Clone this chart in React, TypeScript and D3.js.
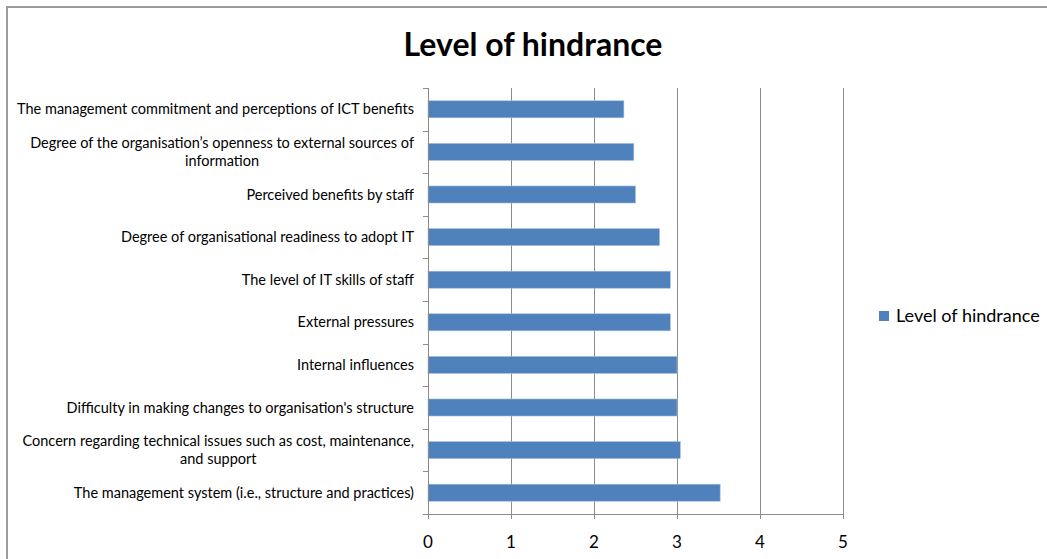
import React, { useEffect, useRef } from 'react';
import * as d3 from 'd3';

const categories = [
  ['The management commitment and perceptions of ICT benefits'],
  ['Degree of the organisation\u2019s openness to external sources of', 'information'],
  ['Perceived benefits by staff'],
  ['Degree of organisational readiness to adopt IT'],
  ['The level of IT skills of staff'],
  ['External pressures'],
  ['Internal influences '],
  ["Difficulty in making changes to organisation's structure"],
  ['Concern regarding technical issues such as cost, maintenance,', 'and support'],
  ['The management system (i.e., structure and practices)'],
];
const values = [2.36, 2.48, 2.5, 2.79, 2.92, 2.92, 3.0, 3.0, 3.04, 3.52];
const xTicks = [0, 1, 2, 3, 4, 5];
const seriesName = 'Level of hindrance';
const title = 'Level of hindrance';

const W = 1047;
const H = 559;
const FONT = 'Lato, "Open Sans", sans-serif';

export default function App() {
  const ref = useRef<SVGSVGElement>(null);

  useEffect(() => {
    const svg = d3.select(ref.current);
    svg.selectAll('*').remove();

    const plot = { left: 428, right: 843, top: 88, bottom: 514 };

    // outer chart border (cut off at right/bottom)
    svg.append('path')
      .attr('d', `M7,${H + 5}V7H${W + 5}`)
      .attr('fill', 'none')
      .attr('stroke', '#9b9b9b')
      .attr('stroke-width', 2);

    svg.append('text')
      .attr('x', 533)
      .attr('y', 56)
      .attr('text-anchor', 'middle')
      .attr('font-family', FONT)
      .attr('font-weight', 'bold')
      .attr('font-size', 32)
      .text(title);

    const x = d3.scaleLinear().domain([0, 5]).range([plot.left, plot.right]);
    const y = d3.scaleBand<number>()
      .domain(d3.range(categories.length))
      .range([plot.top, plot.bottom]);
    const barH = y.bandwidth() / 2.5;

    // gridlines
    svg.append('g')
      .selectAll('line')
      .data(xTicks.slice(1))
      .join('line')
      .attr('x1', d => Math.round(x(d)) + 0.5)
      .attr('x2', d => Math.round(x(d)) + 0.5)
      .attr('y1', plot.top)
      .attr('y2', plot.bottom)
      .attr('stroke', '#8c8c8c')
      .attr('stroke-width', 1);

    // bars
    svg.append('g')
      .selectAll('rect')
      .data(values)
      .join('rect')
      .attr('x', x(0))
      .attr('y', (_, i) => y(i)! + (y.bandwidth() - barH) / 2)
      .attr('width', d => x(d) - x(0))
      .attr('height', barH)
      .attr('fill', '#4f81bd')
      .attr('stroke', '#a7bfde')
      .attr('stroke-width', 0.6);

    // y axis line + ticks
    const ax = svg.append('g').attr('stroke', '#8c8c8c').attr('stroke-width', 1);
    ax.append('line')
      .attr('x1', plot.left + 0.5).attr('x2', plot.left + 0.5)
      .attr('y1', plot.top).attr('y2', plot.bottom);
    const bounds = d3.range(categories.length + 1).map(i => plot.top + i * y.step());
    ax.selectAll('line.yt')
      .data(bounds)
      .join('line')
      .attr('class', 'yt')
      .attr('x1', plot.left - 5).attr('x2', plot.left)
      .attr('y1', d => Math.round(d) + 0.5).attr('y2', d => Math.round(d) + 0.5);

    // x axis line + ticks
    ax.append('line')
      .attr('x1', plot.left).attr('x2', plot.right + 1)
      .attr('y1', plot.bottom + 0.5).attr('y2', plot.bottom + 0.5);
    ax.selectAll('line.xt')
      .data(xTicks)
      .join('line')
      .attr('class', 'xt')
      .attr('x1', d => Math.round(x(d)) + 0.5).attr('x2', d => Math.round(x(d)) + 0.5)
      .attr('y1', plot.bottom).attr('y2', plot.bottom + 5);

    svg.append('g')
      .selectAll('text')
      .data(xTicks)
      .join('text')
      .attr('x', d => x(d))
      .attr('y', 548)
      .attr('text-anchor', 'middle')
      .attr('font-family', FONT)
      .attr('font-size', 17)
      .attr('fill', '#000')
      .text(d => String(d));

    // category labels
    const labelRight = plot.left - 14;
    const lineH = 18;
    const lg = svg.append('g').attr('font-family', FONT).attr('font-size', 14.5).attr('fill', '#000');
    categories.forEach((lines, i) => {
      const cy = y(i)! + y.bandwidth() / 2;
      const t = lg.append('text').attr('text-anchor', 'middle');
      const spans = lines.map((l, j) =>
        t.append('tspan')
          .attr('y', cy + (j - (lines.length - 1) / 2) * lineH + 5)
          .text(l)
      );
      const widths = spans.map(s => (s.node() as SVGTSpanElement).getComputedTextLength());
      const maxW = d3.max(widths) || 0;
      spans.forEach(s => s.attr('x', labelRight - maxW / 2));
    });

    // legend
    svg.append('rect')
      .attr('x', 879).attr('y', 311).attr('width', 10).attr('height', 10)
      .attr('fill', '#4f81bd');
    svg.append('text')
      .attr('x', 896).attr('y', 322)
      .attr('font-family', FONT)
      .attr('font-size', 18)
      .text(seriesName);
  }, []);

  return (
    <svg
      ref={ref}
      width={W}
      height={H}
      style={{ position: 'absolute', left: 0, top: 0, background: '#fff' }}
    />
  );
}
